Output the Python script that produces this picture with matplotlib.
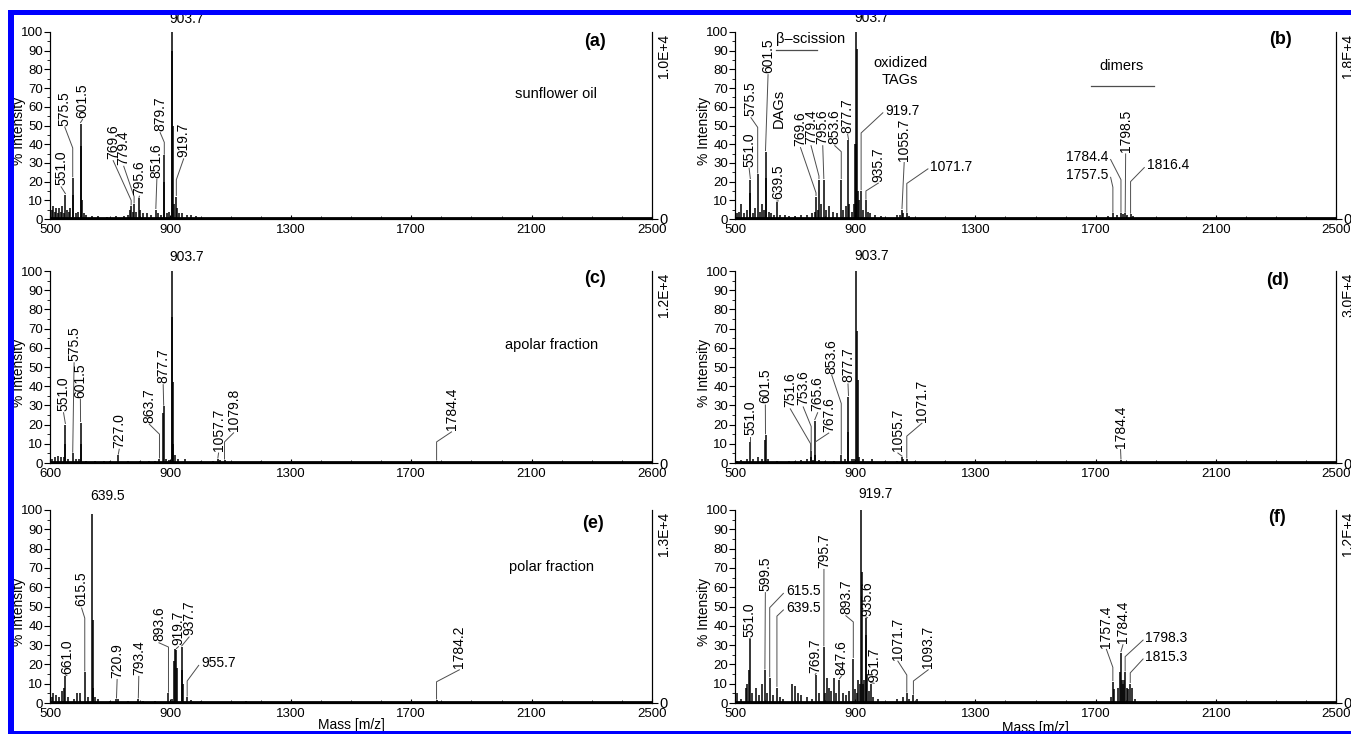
import matplotlib
matplotlib.use("Agg")
import matplotlib.pyplot as plt
from matplotlib.patches import Rectangle
from matplotlib.ticker import MultipleLocator

plt.rcParams['font.family'] = ['Liberation Sans', 'DejaVu Sans']

# ---- spectra: peak m/z and % intensity ----
a_mz = [505, 510, 515, 520, 525, 530, 535, 540, 545, 551.0, 556, 562, 568, 575.5, 578, 585, 592,
        601.5, 603.5, 606, 612, 620, 640, 660, 690, 720, 745, 760, 765, 769.6, 775, 779.4, 786,
        795.6, 800, 810, 822, 835, 851.6, 860, 870, 877.7, 879.7, 890, 897, 903.7, 905.7, 907.7,
        912, 919.7, 922, 930, 940, 955, 970, 985]
a_int = [5, 7, 4, 6, 3, 6, 4, 7, 3, 13, 5, 4, 6, 22, 13, 3, 4,
         51, 39, 10, 3, 2, 1.5, 1.5, 1, 1.5, 1.5, 2, 5, 7, 4, 8, 4,
         11, 5, 3, 3, 2, 5, 3, 2, 20, 34, 3, 4, 100, 90, 50,
         8, 12, 6, 3, 3, 2, 2, 1.5]

b_mz = [505, 512, 520, 530, 540, 549, 551.0, 560, 568, 575.5, 582, 590, 597, 601.5, 604, 612,
        620, 630, 639.5, 650, 665, 680, 700, 720, 740, 755, 765, 769.6, 775, 779.4, 786, 795.6,
        802, 812, 825, 840, 853.6, 860, 868, 877.7, 880, 890, 895, 899, 901, 903.7, 905.7, 908,
        912, 919.7, 925, 935.7, 942, 950, 965, 985, 1040, 1050, 1055.7, 1060, 1071.7, 1080,
        1740, 1757.5, 1770, 1784.4, 1790, 1798.5, 1805, 1816.4, 1825]
b_int = [3, 4, 8, 3, 5, 14, 21, 3, 6, 24, 4, 8, 5, 36, 22, 4,
         3, 2, 9, 2, 2, 1.5, 1.5, 2, 2, 3, 4, 12, 5, 21, 8, 21,
         5, 7, 4, 3, 21, 5, 7, 42, 8, 4, 8, 40, 40, 100, 91, 15,
         10, 15, 5, 10, 4, 3, 2, 1.5, 2, 2, 5, 3, 3, 1.5,
         1.5, 3, 2, 3, 2.5, 3, 2, 2.5, 1.5]

c_mz = [505, 515, 525, 535, 545, 549, 551.0, 560, 575.5, 585, 595, 601.5, 604, 620, 650, 680,
        700, 727.0, 760, 800, 830, 850, 863.7, 876, 877.7, 885, 895, 903.7, 905.7, 907.7, 910,
        915, 925, 950, 1000, 1040, 1057.7, 1065, 1079.8, 1200, 1784.4]
c_int = [2, 3, 3.5, 3, 3, 10, 20, 2, 5, 2, 2, 21, 10, 1, 1, 1,
         1, 4, 1, 1, 1, 1, 2, 26, 29.5, 2, 1.5, 100, 76, 42, 10,
         4, 2, 2, 1, 1, 2, 1.5, 1.5, 1, 1]

d_mz = [505, 520, 540, 551.0, 560, 575, 590, 599, 601.5, 610, 640, 680, 700, 720, 740, 751.6,
        753.6, 760, 765.6, 767.6, 780, 800, 830, 853.6, 865, 875, 877.7, 890, 895, 903.7, 905.7,
        907.7, 912, 925, 955, 1000, 1040, 1055.7, 1060, 1071.7, 1100, 1200, 1784.4]
d_int = [1, 1.5, 2, 11, 2, 3, 2, 12, 14.6, 2, 1, 1, 1, 1.5, 2, 3,
         6, 1.5, 22, 4, 1.5, 1, 1, 4, 2, 16, 34.5, 2, 2, 100, 69,
         43, 3, 2, 2, 1, 1, 3, 2, 2, 1, 0.8, 1.5]

e_mz = [505, 510, 520, 530, 540, 546, 551.0, 560, 580, 590, 600, 615.5, 625, 639.5, 641.5,
        643.5, 650, 660, 700, 720.9, 725, 760, 793.4, 810, 850, 893.6, 905, 911.7, 915.7, 919.7,
        921.7, 937.7, 939.7, 941.7, 955.7, 970, 1000, 1150, 1784.2]
e_int = [3, 5, 4, 3, 6, 8, 14, 3, 2, 5, 5, 16, 3, 98, 43,
         8, 3, 2, 1, 2, 2, 1, 2, 1, 1, 5, 2, 22, 28, 27.6,
         18, 29, 17, 10, 3, 1.5, 1, 1, 1.5]

f_mz = [505, 520, 535, 540, 545, 551.0, 555, 570, 580, 590, 599.5, 605, 615.5, 625, 639.5, 650,
        660, 690, 700, 710, 720, 740, 755, 769.7, 780, 795.7, 800, 805, 812, 820, 828, 835,
        847.6, 860, 870, 880, 893.7, 898, 905, 910, 915, 919.7, 921.7, 925, 930, 935.6, 937.6,
        940, 945, 951.7, 960, 975, 1040, 1060, 1071.7, 1080, 1093.7, 1105, 1750, 1757.4, 1762,
        1775, 1780, 1784.4, 1787, 1790, 1795, 1798.3, 1803, 1808, 1815.3, 1820, 1830]
f_int = [5, 2, 8, 10, 17, 33, 5, 8, 4, 10, 17, 5, 13, 4, 8, 3,
         2, 10, 9, 5, 4, 3, 2, 14.7, 5, 29, 5, 13, 8, 6, 13, 5,
         12, 5, 4, 6, 23, 7, 5, 12, 10, 100, 68, 10, 12, 44, 35,
         15, 6, 10, 3, 2, 2, 3, 5, 2, 4, 2, 3, 11, 7,
         8, 16, 26, 12, 10, 12, 16, 8, 7, 10, 8, 2]

# labelled peaks (m/z of the peak, printed text)
a_lab = [551.0, 575.5, 601.5, 769.6, 779.4, 795.6, 851.6, 879.7, 903.7, 919.7]
b_lab = [551.0, 575.5, 601.5, 639.5, 769.6, 779.4, 795.6, 853.6, 877.7, 903.7, 919.7, 935.7,
         1055.7, 1071.7, 1757.5, 1784.4, 1798.5, 1816.4]
c_lab = [551.0, 575.5, 601.5, 727.0, 863.7, 877.7, 903.7, 1057.7, 1079.8, 1784.4]
d_lab = [551.0, 601.5, 751.6, 753.6, 765.6, 767.6, 853.6, 877.7, 903.7, 1055.7, 1071.7, 1784.4]
e_lab = [551.0, 615.5, 639.5, 720.9, 793.4, 893.6, 919.7, 937.7, 955.7, 1784.2]
e_txt = ["661.0", "615.5", "639.5", "720.9", "793.4", "893.6", "919.7", "937.7", "955.7", "1784.2"]
f_lab = [551.0, 599.5, 615.5, 639.5, 769.7, 795.7, 847.6, 893.7, 919.7, 935.6, 951.7, 1071.7,
         1093.7, 1757.4, 1784.4, 1798.3, 1815.3]

scale_txt = ["1.0E+4", "1.8E+4", "1.2E+4", "3.0E+4", "1.3E+4", "1.2E+4"]
panel_ids = ["(a)", "(b)", "(c)", "(d)", "(e)", "(f)"]
xtick_vals = [500, 900, 1300, 1700, 2100, 2500]
xtick_txt = ["500", "900", "1300", "1700", "2100", "2500"]
xtick_txt_c = ["600", "900", "1300", "1700", "2100", "2600"]

# ---- label placement (text x, text y, kind, knee y) ----
a_place = [(537, 18, 'v', None), (549, 50, 'v', 38), (608, 54, 'v', None), (710, 32, 'v', 10),
           (745, 29, 'v', 12), (797, 13, 'v', None), (855, 22, 'v', None), (866, 47, 'v', 41),
           (898, 103, 't', None), (944, 33, 'v', 21)]
b_place = [(547, 28, 'v', None), (553, 55, 'v', 49), (610, 78, 'v', None), (644, 10.5, 'v', None),
           (718, 39, 'v', 14), (753, 40, 'v', 23), (792, 40, 'v', None), (832, 40, 'v', 36),
           (875, 46, 'v', None), (898, 103.5, 't', None), (1000, 58, 'l', 46), (977, 20, 'v', 15),
           (1063, 31, 'v', None), (1150, 28, 'l', 19), (1742, 23.5, 'r', 17), (1742, 33, 'r', 21),
           (1800, 35.6, 'v', None), (1870, 28.7, 'l', 20)]
c_place = [(545, 27, 'v', None), (580, 53, 'v', None), (601, 34, 'v', None), (730, 8, 'v', None),
           (830, 21, 'v', 15), (876, 41.6, 'v', None), (898, 103.5, 't', None), (1060, 6, 'v', None),
           (1110, 16.5, 'v', 11), (1834, 17, 'v', 11)]
d_place = [(551, 14.6, 'v', None), (601, 31, 'v', None), (684, 29, 'v', 10), (727, 30, 'v', 19),
           (775, 27, 'v', None), (812, 16.4, 'v', 11), (822, 46.5, 'v', 31), (876, 42, 'v', None),
           (898, 104, 't', None), (1042, 6, 'v', None), (1122, 21.5, 'v', 14), (1783, 7.8, 'v', None)]
e_place = [(556, 15, 'v', None), (605, 50, 'v', 44), (634, 103.5, 't', None), (723, 13, 'v', None),
           (795, 14.6, 'v', None), (862, 32, 'v', 29), (927, 30, 'v', None), (962, 35, 'v', 29.5),
           (1002, 20.7, 'l', 11.4), (1860, 18, 'v', 11)]
f_place = [(548, 34, 'v', None), (601, 58, 'v', None), (669, 58, 'l', 49.4), (669, 49.4, 'l', 45),
           (767, 15.6, 'v', None), (796, 70, 'v', None), (854, 14.7, 'v', None), (869, 46, 'v', 42),
           (912, 104.5, 't', None), (941, 45, 'v', None), (963, 11, 'v', None), (1042, 22.5, 'v', 14.5),
           (1143, 18, 'v', 11.4), (1736, 28.6, 'v', 18.5), (1791, 31, 'v', None), (1866, 33.8, 'l', 24),
           (1866, 24, 'l', 15.6)]
pid_place = [(2312, 95), (2314, 96), (2312, 96), (2305, 95), (2305, 93), (2305, 96)]

panels = [
    (a_mz, a_int, a_lab, [f"{m:.1f}" for m in a_lab], a_place),
    (b_mz, b_int, b_lab, [f"{m:.1f}" for m in b_lab], b_place),
    (c_mz, c_int, c_lab, [f"{m:.1f}" for m in c_lab], c_place),
    (d_mz, d_int, d_lab, [f"{m:.1f}" for m in d_lab], d_place),
    (e_mz, e_int, e_lab, e_txt, e_place),
    (f_mz, f_int, f_lab, [f"{m:.1f}" for m in f_lab], f_place),
]

W, H = 1351, 734
fig = plt.figure(figsize=(W / 100, H / 100), dpi=100)

rows = [(219, 187), (463, 192), (703, 193)]   # y of 0 %, height of 0-100 % in px
cols = [(50, 602), (735, 601)]                # x of m/z 500, width in px

FS = 9.5
LW_LEAD = 0.7


def tag(ax, txt, px, py, tx, ty, kind, knee):
    if kind == 't':
        ax.text(tx, ty, txt, ha='left', va='bottom', fontsize=FS + 0.5, clip_on=False)
        return
    if kind == 'v':
        ex, ey = tx, ty - 0.8
    elif kind == 'l':
        ex, ey = tx - 8, ty - 1.2
    else:
        ex, ey = tx + 8, ty - 1.2
    y0 = py + 0.6
    xs, ys = [px], [y0]
    if knee is not None and knee > y0:
        xs.append(px)
        ys.append(knee)
    xs.append(ex)
    ys.append(ey)
    ax.plot(xs, ys, color='0.3', lw=LW_LEAD, clip_on=False)
    if kind == 'v':
        ax.text(tx, ty, txt, rotation=90, ha='center', va='bottom', fontsize=FS + 0.5)
    else:
        ax.text(tx, ty, txt, ha='left' if kind == 'l' else 'right', va='center', fontsize=FS + 0.5)


axes = []
for i, (mz, inten, lab, txt, place) in enumerate(panels):
    r, c = divmod(i, 2)
    y0, hh = rows[r]
    x0, ww = cols[c]
    ax = fig.add_axes([x0 / W, 1 - y0 / H, ww / W, hh / H])
    axes.append(ax)

    ax.plot([500, 2500], [0.5, 0.5], color='k', lw=2.0, solid_capstyle='butt')
    ax.vlines(mz, 0, inten, color='k', lw=1.1)

    for m, t, (tx, ty, kind, knee) in zip(lab, txt, place):
        py = inten[mz.index(m)]
        tag(ax, t, m, py, tx, ty, kind, knee)

    ax.set_xlim(500, 2500)
    ax.set_ylim(0, 100)
    ax.set_xticks(xtick_vals)
    ax.set_xticklabels(xtick_txt_c if i == 2 else xtick_txt)
    ax.xaxis.set_minor_locator(MultipleLocator(100))
    ax.set_yticks(range(0, 101, 10))
    ax.yaxis.set_minor_locator(MultipleLocator(5))
    ax.tick_params(axis='x', which='major', direction='in', length=3, width=0.8,
                   labelsize=FS, pad=3.5)
    ax.tick_params(axis='x', which='minor', direction='in', length=2, width=0.6)
    ax.tick_params(axis='y', which='major', direction='out', length=4, width=0.8,
                   labelsize=FS, pad=1)
    ax.tick_params(axis='y', which='minor', direction='out', length=2, width=0.6)
    ax.spines['top'].set_visible(False)
    for s in ('left', 'bottom', 'right'):
        ax.spines[s].set_linewidth(0.8)
    ax.set_ylabel("% Intensity", fontsize=FS + 0.5)
    ax.yaxis.set_label_coords(-0.04, 0.47)

    axr = ax.twinx()
    axr.set_ylim(0, 100)
    axr.set_yticks([0])
    axr.set_yticklabels(["0"])
    axr.tick_params(axis='y', direction='out', length=4, width=0.8, labelsize=FS + 1, pad=1)
    axr.spines['top'].set_visible(False)
    axr.spines['right'].set_linewidth(0.8)
    ax.text(1.02, 0.99, scale_txt[i], transform=ax.transAxes, rotation=90,
            ha='center', va='top', fontsize=FS + 0.5)

    ax.text(pid_place[i][0], pid_place[i][1], panel_ids[i], ha='center', va='center',
            fontsize=13, fontweight='bold')

    if r == 2:
        ax.set_xlabel("Mass [m/z]", fontsize=FS + 0.5, labelpad=-1 if c == 0 else 1)

# sample names and group captions
axes[0].text(2181, 67, "sunflower oil", ha='center', va='center', fontsize=10.5)
axes[2].text(2167, 61.5, "apolar fraction", ha='center', va='center', fontsize=10.5)
axes[4].text(2167, 70.7, "polar fraction", ha='center', va='center', fontsize=10.5)

axb = axes[1]
axb.text(753, 96.5, "β–scission", ha='center', va='center', fontsize=10.5)
axb.plot([637, 774], [90.5, 90.5], color='0.3', lw=0.9)
axb.text(1050, 79, "oxidized\nTAGs", ha='center', va='center', fontsize=10.5, linespacing=1.3)
axb.text(1785, 81.7, "dimers", ha='center', va='center', fontsize=10.5)
axb.plot([1684, 1893], [71, 71], color='0.3', lw=0.9)
axb.text(644, 48.5, "DAGs", rotation=90, ha='center', va='bottom', fontsize=10.5)

# blue frame of the scanned figure
blue = '#0000ff'
fig.add_artist(Rectangle((8 / W, 1 - 15 / H), 1, 5 / H, transform=fig.transFigure,
                         color=blue, lw=0, zorder=10))
fig.add_artist(Rectangle((8 / W, 0), 6 / W, 1 - 10 / H, transform=fig.transFigure,
                         color=blue, lw=0, zorder=10))
fig.add_artist(Rectangle((8 / W, 0), 1, 3 / H, transform=fig.transFigure,
                         color=blue, lw=0, zorder=10))

fig.savefig("out.png", dpi=100)
